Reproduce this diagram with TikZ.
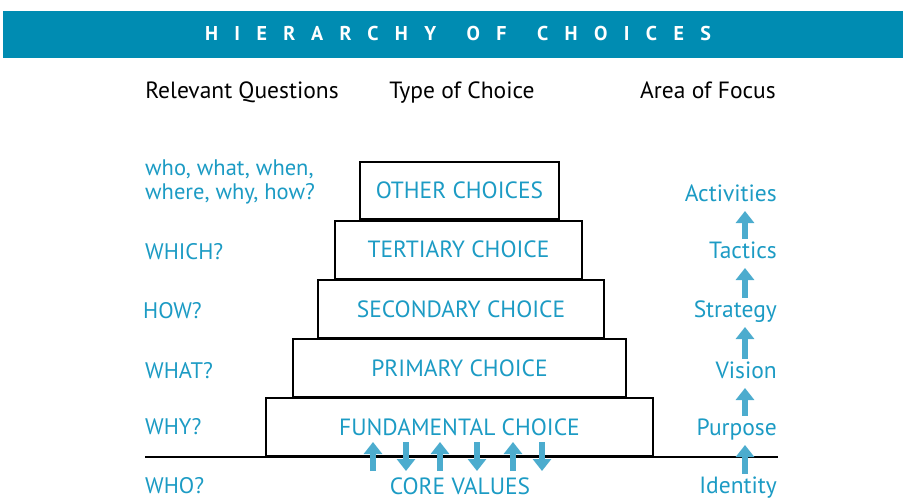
\documentclass[tikz,border=0pt]{standalone}
\usepackage{fontspec}
\setmainfont{PT Sans}
\usetikzlibrary{arrows.meta}
\definecolor{bannerblue}{RGB}{0,140,178}
\definecolor{textblue}{RGB}{28,155,196}
\definecolor{arrowblue}{RGB}{76,172,206}

\begin{document}
\begin{tikzpicture}[x=1pt,y=-1pt,
	choice/.style={draw=black, line width=2pt, text=textblue, inner sep=0pt,
		font=\fontsize{23.5}{23.5}\selectfont, minimum height=58pt},
	question/.style={anchor=south west, inner sep=0pt, text height=17pt, text depth=0pt,
		text=textblue, font=\fontsize{22.5}{24}\selectfont},
	focus/.style={anchor=south east, inner sep=0pt, text height=17pt, text depth=0pt,
		text=textblue, font=\fontsize{23.5}{23.5}\selectfont},
	header/.style={anchor=base, inner sep=0pt, font=\fontsize{23.5}{23.5}\selectfont},
	uparrow/.style={arrowblue, line width=6pt, -{Triangle[width=18pt,length=12pt]}}
]
\useasboundingbox (0,0) rectangle (903,499);

% title bar
\node[fill=bannerblue, minimum width=900pt, minimum height=47pt, inner sep=0pt] (banner) at (453,34.5) {};
\node[text=white, font=\bfseries\fontsize{20}{20}\selectfont\addfontfeature{LetterSpace=82}] (title) at (458,33) {HIERARCHY\hspace{9pt} OF\hspace{9pt} CHOICES};

% column headers
\node[header] (questions) at (242,98) {Relevant Questions};
\node[header] (type) at (462,98) {Type of Choice};
\node[header] (area) at (708,98) {Area of Focus};

% the stacked choices
\node[choice, minimum width=199pt, minimum height=57pt] (other) at (459.5,190.5) {OTHER CHOICES};
\node[choice, minimum width=247pt] (tertiary) at (458.5,249.5) {TERTIARY CHOICE};
\node[choice, minimum width=286pt] (secondary) at (461,309) {SECONDARY CHOICE};
\node[choice, minimum width=333pt] (primary) at (459.5,368) {PRIMARY CHOICE};
\node[choice, minimum width=387pt] (fundamental) at (459.5,427) {FUNDAMENTAL CHOICE};

% ground line
\draw[line width=2.5pt] (145,457) -- (778,457);

% questions on the left
\node[question, align=left] (whowhat) at (145,200) {who, what, when,\\where, why, how?};
\node[question] (which) at (145,260) {WHICH?};
\node[question] (how) at (143,319) {HOW?};
\node[question] (what) at (145,379) {WHAT?};
\node[question] (why) at (145,435) {WHY?};
\node[question] (who) at (145,494) {WHO?};

% areas of focus on the right
\node[focus] (activities) at (777,202) {Activities};
\node[focus] (tactics) at (777,259) {Tactics};
\node[focus] (strategy) at (777,318) {Strategy};
\node[focus] (vision) at (777,379) {Vision};
\node[focus] (purpose) at (777,436) {Purpose};
\node[focus] (identity) at (777,494) {Identity};

\coordinate (fx) at (745,0);
\foreach \lo/\hi in {identity/purpose, purpose/vision, vision/strategy, strategy/tactics, tactics/activities}
	\draw[uparrow, shorten <=3pt, shorten >=9pt] (\lo.north -| fx) -- (\hi.south -| fx);

% core values pushing up and down
\node[anchor=base, inner sep=0pt, text=textblue, font=\fontsize{23.5}{23.5}\selectfont] (core) at (460,494) {CORE VALUES};
\coordinate (vlow) at (0,471);
\coordinate (vhigh) at (0,442);
\foreach \x in {373,440,513}
	\draw[uparrow] ([xshift=\x pt]vlow) -- ([xshift=\x pt]vhigh);
\foreach \x in {406,477,542}
	\draw[uparrow] ([xshift=\x pt]vhigh) -- ([xshift=\x pt]vlow);

\end{tikzpicture}
\end{document}
